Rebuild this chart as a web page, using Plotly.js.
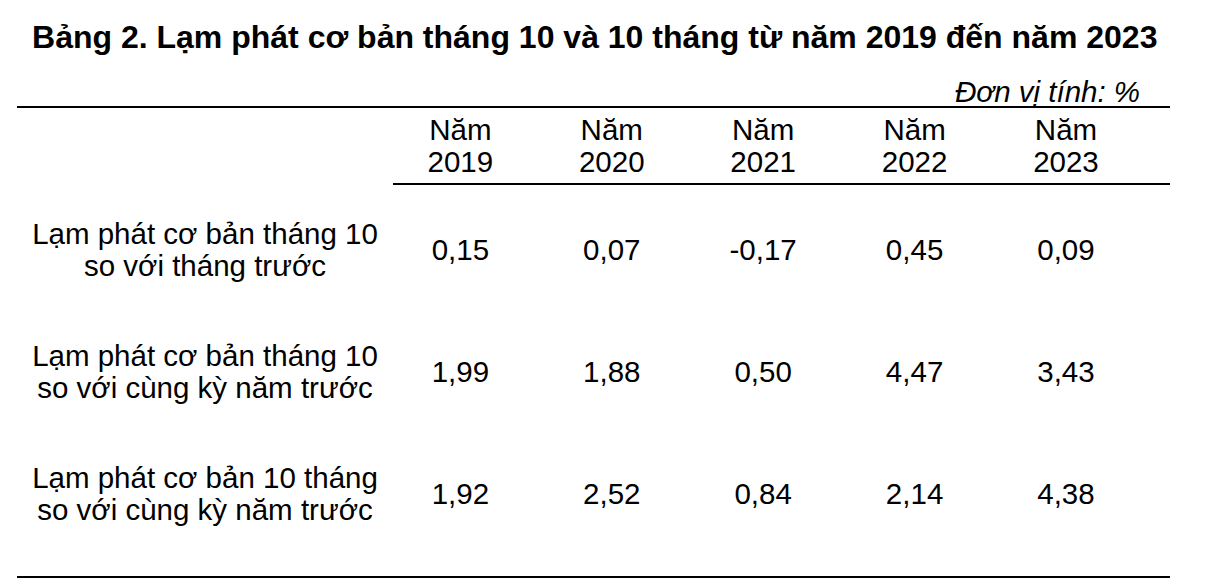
<!DOCTYPE html>
<html><head><meta charset="utf-8">
<script src="https://cdn.plot.ly/plotly-3.0.1.min.js"></script>
<style>html,body{margin:0;padding:0;background:#fff}#chart{width:1214px;height:588px}</style>
</head><body><div id="chart"></div>
<script>
// ---- data ----
const titleText = 'Bảng 2. Lạm phát cơ bản tháng 10 và 10 tháng từ năm 2019 đến năm 2023';
const unitNote = 'Đơn vị tính: %';
const headerWord = 'Năm';
const years = ['2019', '2020', '2021', '2022', '2023'];
const rowLabelLine1 = ['Lạm phát cơ bản tháng 10', 'Lạm phát cơ bản tháng 10', 'Lạm phát cơ bản 10 tháng'];
const rowLabelLine2 = ['so với tháng trước', 'so với cùng kỳ năm trước', 'so với cùng kỳ năm trước'];
const momOct = [0.15, 0.07, -0.17, 0.45, 0.09];
const yoyOct = [1.99, 1.88, 0.50, 4.47, 3.43];
const yoy10m = [1.92, 2.52, 0.84, 2.14, 4.38];
const seriesRows = [momOct, yoyOct, yoy10m];

// ---- style / layout constants ----
const FONT = 'Liberation Sans, Arial, sans-serif';
const BODY = 29.5;
const HEADER_Y = -0.857;
const LINE_OFF = 0.131;
const HEADER_RULE_Y = -0.566;
const fmt = v => v.toFixed(2).replace('.', ',');
const txt = {family: FONT, size: BODY, color: '#000'};

const traces = [];
traces.push({type: 'scatter', mode: 'text', x: years, y: years.map(() => HEADER_Y - LINE_OFF),
  text: years.map(() => headerWord), textfont: txt, textposition: 'middle center', cliponaxis: false, hoverinfo: 'skip'});
traces.push({type: 'scatter', mode: 'text', x: years, y: years.map(() => HEADER_Y + LINE_OFF),
  text: years, textfont: txt, textposition: 'middle center', cliponaxis: false, hoverinfo: 'skip'});
seriesRows.forEach((vals, r) => {
  traces.push({type: 'scatter', mode: 'text', x: years, y: vals.map(() => r),
    text: vals.map(fmt), textfont: txt, textposition: 'middle center', cliponaxis: false, hoverinfo: 'skip'});
});
traces.push({type: 'scatter', mode: 'text', xaxis: 'x2', x: rowLabelLine1.map(() => 0),
  y: rowLabelLine1.map((_, r) => r - LINE_OFF), text: rowLabelLine1, textfont: txt,
  textposition: 'middle center', cliponaxis: false, hoverinfo: 'skip'});
traces.push({type: 'scatter', mode: 'text', xaxis: 'x2', x: rowLabelLine2.map(() => 0),
  y: rowLabelLine2.map((_, r) => r + LINE_OFF), text: rowLabelLine2, textfont: txt,
  textposition: 'middle center', cliponaxis: false, hoverinfo: 'skip'});

const split = 0.3261;
const hidden = {showgrid: false, zeroline: false, showticklabels: false, ticks: '', showline: false, fixedrange: true};
const layout = {
  width: 1214, height: 588,
  margin: {l: 17, r: 44, t: 107, b: 11, pad: 0},
  paper_bgcolor: '#fff', plot_bgcolor: '#fff',
  showlegend: false,
  font: {family: FONT, color: '#000'},
  title: {text: '<b>' + titleText + '</b>', font: {family: FONT, size: 32, color: '#000'},
    xref: 'container', yref: 'container', x: 0.0264, xanchor: 'left', y: 0.937, yanchor: 'middle'},
  xaxis: Object.assign({}, hidden, {type: 'category', domain: [split, 1], range: [-0.445, 4.687]}),
  xaxis2: Object.assign({}, hidden, {domain: [0, split], range: [-0.5, 0.5], anchor: 'y'}),
  yaxis: Object.assign({}, hidden, {range: [2.656, -1.197]}),
  shapes: [
    {type: 'line', xref: 'paper', yref: 'paper', x0: 0, x1: 1, y0: 1, y1: 1, line: {color: '#000', width: 2}},
    {type: 'line', xref: 'paper', yref: 'y', x0: split, x1: 1, y0: HEADER_RULE_Y, y1: HEADER_RULE_Y, line: {color: '#000', width: 2}},
    {type: 'line', xref: 'paper', yref: 'paper', x0: 0, x1: 1, y0: 0, y1: 0, line: {color: '#000', width: 2}}
  ],
  annotations: [
    {text: '<i>' + unitNote + '</i>', xref: 'paper', yref: 'paper', x: 0.9757, xanchor: 'right', y: 1.032, yanchor: 'middle',
     showarrow: false, font: {family: FONT, size: BODY, color: '#000'}}
  ]
};
Plotly.newPlot('chart', traces, layout, {displayModeBar: false, staticPlot: true});
</script></body></html>
